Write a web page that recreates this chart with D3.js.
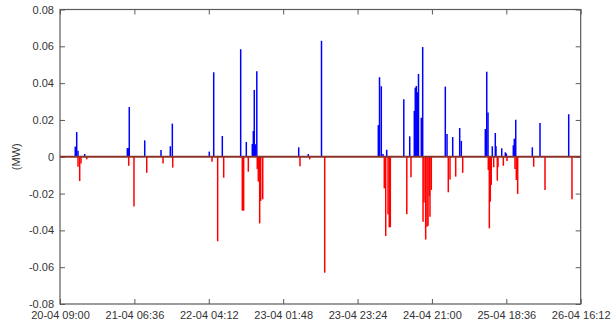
<!DOCTYPE html>
<html>
<head>
<meta charset="utf-8">
<script src="https://cdn.jsdelivr.net/npm/d3@7"></script>
<style>
  body { margin: 0; background: #fff; }
  svg { display: block; }
  .tick text { font-family: "Liberation Sans", Arial, Helvetica, sans-serif; font-size: 11px; fill: #333; }
</style>
</head>
<body>
<div id="graph"></div>
<script>
// x tick labels (dd-mm HH:MM), every 21h36m
const xTickLabels = ["20-04 09:00", "21-04 06:36", "22-04 04:12", "23-04 01:48",
                     "23-04 23:24", "24-04 21:00", "25-04 18:36", "26-04 16:12"];
const yTickValues = [-0.08, -0.06, -0.04, -0.02, 0, 0.02, 0.04, 0.06, 0.08];

// injection (positive, MW)
const posTimes = ["20-04 13:26", "20-04 13:51", "20-04 14:14", "20-04 16:10", "21-04 04:33", "21-04 04:50",
  "21-04 05:07", "21-04 09:36", "21-04 14:20", "21-04 17:02", "21-04 17:37", "22-04 04:21", "22-04 05:38",
  "22-04 08:08", "22-04 13:28", "22-04 15:06", "22-04 16:50", "22-04 17:08", "22-04 17:25", "22-04 17:43",
  "22-04 18:09", "23-04 06:19", "23-04 09:06", "23-04 12:56", "24-04 05:26", "24-04 05:47", "24-04 06:18",
  "24-04 06:47", "24-04 07:52", "24-04 12:50", "24-04 14:33", "24-04 15:53", "24-04 16:10", "24-04 16:28",
  "24-04 16:45", "24-04 17:06", "24-04 17:55", "24-04 18:19", "25-04 00:53", "25-04 01:23", "25-04 03:02",
  "25-04 05:04", "25-04 05:32", "25-04 12:30", "25-04 12:55", "25-04 13:17", "25-04 14:32", "25-04 15:24",
  "25-04 15:36", "25-04 17:16", "25-04 18:19", "25-04 18:36", "25-04 20:38", "25-04 20:55", "25-04 21:20",
  "26-04 02:09", "26-04 04:23", "26-04 12:43"];
const posValues = [0.0055, 0.0134, 0.0033, 0.0015, 0.0047, 0.0047,
  0.0270, 0.0089, 0.0037, 0.0057, 0.0180, 0.0028, 0.0459,
  0.0113, 0.0584, 0.0080, 0.0069, 0.0140, 0.0363, 0.0068,
  0.0464, 0.0051, 0.0015, 0.0630, 0.0172, 0.0432, 0.0383,
  0.0015, 0.0038, 0.0312, 0.0111, 0.0249, 0.0375, 0.0384,
  0.0350, 0.0450, 0.0212, 0.0596, 0.0381, 0.0124, 0.0107,
  0.0156, 0.0086, 0.0151, 0.0462, 0.0241, 0.0057, 0.0129,
  0.0057, 0.0046, 0.0024, 0.0018, 0.0062, 0.0098, 0.0201,
  0.0051, 0.0183, 0.0231];

// withdrawal (negative, MW)
const negTimes = ["20-04 14:14", "20-04 14:43", "20-04 15:06", "20-04 16:45", "21-04 04:57", "21-04 06:29",
  "21-04 10:11", "21-04 14:55", "21-04 17:44", "22-04 05:08", "22-04 06:47", "22-04 08:32", "22-04 13:56",
  "22-04 14:20", "22-04 15:41", "22-04 18:17", "22-04 18:35", "22-04 18:59", "22-04 19:17", "22-04 19:52",
  "23-04 06:41", "23-04 09:31", "23-04 13:52", "24-04 07:10", "24-04 07:35", "24-04 08:15", "24-04 08:37",
  "24-04 08:55", "24-04 13:42", "24-04 14:55", "24-04 18:25", "24-04 18:42", "24-04 19:11", "24-04 19:34",
  "24-04 19:52", "24-04 20:14", "24-04 20:26", "24-04 20:49", "25-04 01:45", "25-04 02:15", "25-04 03:54",
  "25-04 05:56", "25-04 13:22", "25-04 13:40", "25-04 13:57", "25-04 14:14", "25-04 14:56", "25-04 15:59",
  "25-04 16:11", "25-04 17:44", "25-04 18:48", "25-04 21:07", "25-04 21:30", "25-04 21:54", "26-04 02:33",
  "26-04 05:50", "26-04 13:40"];
const negValues = [-0.0054, -0.0132, -0.0036, -0.0014, -0.0049, -0.0270,
  -0.0087, -0.0036, -0.0059, -0.0027, -0.0459, -0.0114, -0.0293,
  -0.0293, -0.0081, -0.0067, -0.0135, -0.0362, -0.0240, -0.0231,
  -0.0052, -0.0014, -0.0630, -0.0172, -0.0431, -0.0313, -0.0383,
  -0.0383, -0.0313, -0.0112, -0.0353, -0.0248, -0.0450, -0.0380,
  -0.0375, -0.0212, -0.0326, -0.0180, -0.0193, -0.0123, -0.0108,
  -0.0087, -0.0072, -0.0389, -0.0244, -0.0153, -0.0057, -0.0130,
  -0.0057, -0.0049, -0.0023, -0.0067, -0.0126, -0.0202, -0.0054,
  -0.0181, -0.0231];

const W = 613, H = 324;
const margin = {top: 9.5, right: 32.3, bottom: 20, left: 60};
const width = W - margin.left - margin.right;
const height = H - margin.top - margin.bottom;

const parseTime = d3.timeParse("%d-%m %H:%M");
const fmtTime = d3.timeFormat("%d-%m %H:%M");
const xTicks = xTickLabels.map(parseTime);

const svg = d3.select("#graph").append("svg")
  .attr("width", W).attr("height", H)
  .append("g")
  .attr("transform", "translate(" + margin.left + "," + margin.top + ")");

const x = d3.scaleTime()
  .domain([xTicks[0], xTicks[xTicks.length - 1]])
  .range([0, width]);
const y = d3.scaleLinear()
  .domain([-0.08, 0.08])
  .range([height, 0]);

const yFmt = d => d === 0 ? "0" : d.toFixed(2);

// axes, MATLAB style: ticks pointing inwards on all four sides
const axisColor = "#5a5a5a";
function styleAxis(g) {
  g.select(".domain").remove();
  g.selectAll(".tick line").attr("stroke", axisColor);
}
svg.append("g")
  .attr("transform", "translate(0," + height + ")")
  .call(d3.axisBottom(x).tickValues(xTicks).tickFormat(fmtTime).tickSize(-5).tickPadding(7.5))
  .call(styleAxis);
svg.append("g")
  .call(d3.axisTop(x).tickValues(xTicks).tickFormat("").tickSize(-5))
  .call(styleAxis);
svg.append("g")
  .call(d3.axisLeft(y).tickValues(yTickValues).tickFormat(yFmt).tickSize(-5).tickPadding(6))
  .call(styleAxis);
svg.append("g")
  .attr("transform", "translate(" + width + ",0)")
  .call(d3.axisRight(y).tickValues(yTickValues).tickFormat("").tickSize(-5))
  .call(styleAxis);

// box
svg.append("rect")
  .attr("x", 0).attr("y", 0)
  .attr("width", width).attr("height", height)
  .attr("fill", "none")
  .attr("stroke", axisColor)
  .attr("stroke-width", 1.2);

// spikes
const pos = posTimes.map((t, i) => ({t: parseTime(t), v: posValues[i]}));
const neg = negTimes.map((t, i) => ({t: parseTime(t), v: negValues[i]}));

svg.selectAll(".pos")
  .data(pos)
  .enter()
  .append("line")
  .attr("class", "pos")
  .attr("x1", d => x(d.t)).attr("x2", d => x(d.t))
  .attr("y1", y(0)).attr("y2", d => y(d.v))
  .attr("stroke", "#0000ff")
  .attr("stroke-width", 1.5);

svg.selectAll(".neg")
  .data(neg)
  .enter()
  .append("line")
  .attr("class", "neg")
  .attr("x1", d => x(d.t)).attr("x2", d => x(d.t))
  .attr("y1", y(0)).attr("y2", d => y(d.v))
  .attr("stroke", "#ff0000")
  .attr("stroke-width", 1.5);

// zero line (blue and red overlap there)
svg.append("line")
  .attr("x1", 0).attr("x2", width)
  .attr("y1", y(0)).attr("y2", y(0))
  .attr("stroke", "#8b3328")
  .attr("stroke-width", 2);

// y label
svg.append("text")
  .attr("transform", "translate(" + (17 - margin.left) + "," + (height / 2) + ") rotate(-90)")
  .attr("text-anchor", "middle")
  .attr("dominant-baseline", "middle")
  .style("font-family", "\"Liberation Sans\", Arial, Helvetica, sans-serif")
  .style("font-size", "11px")
  .style("fill", "#333")
  .text("(MW)");
</script>
</body>
</html>
